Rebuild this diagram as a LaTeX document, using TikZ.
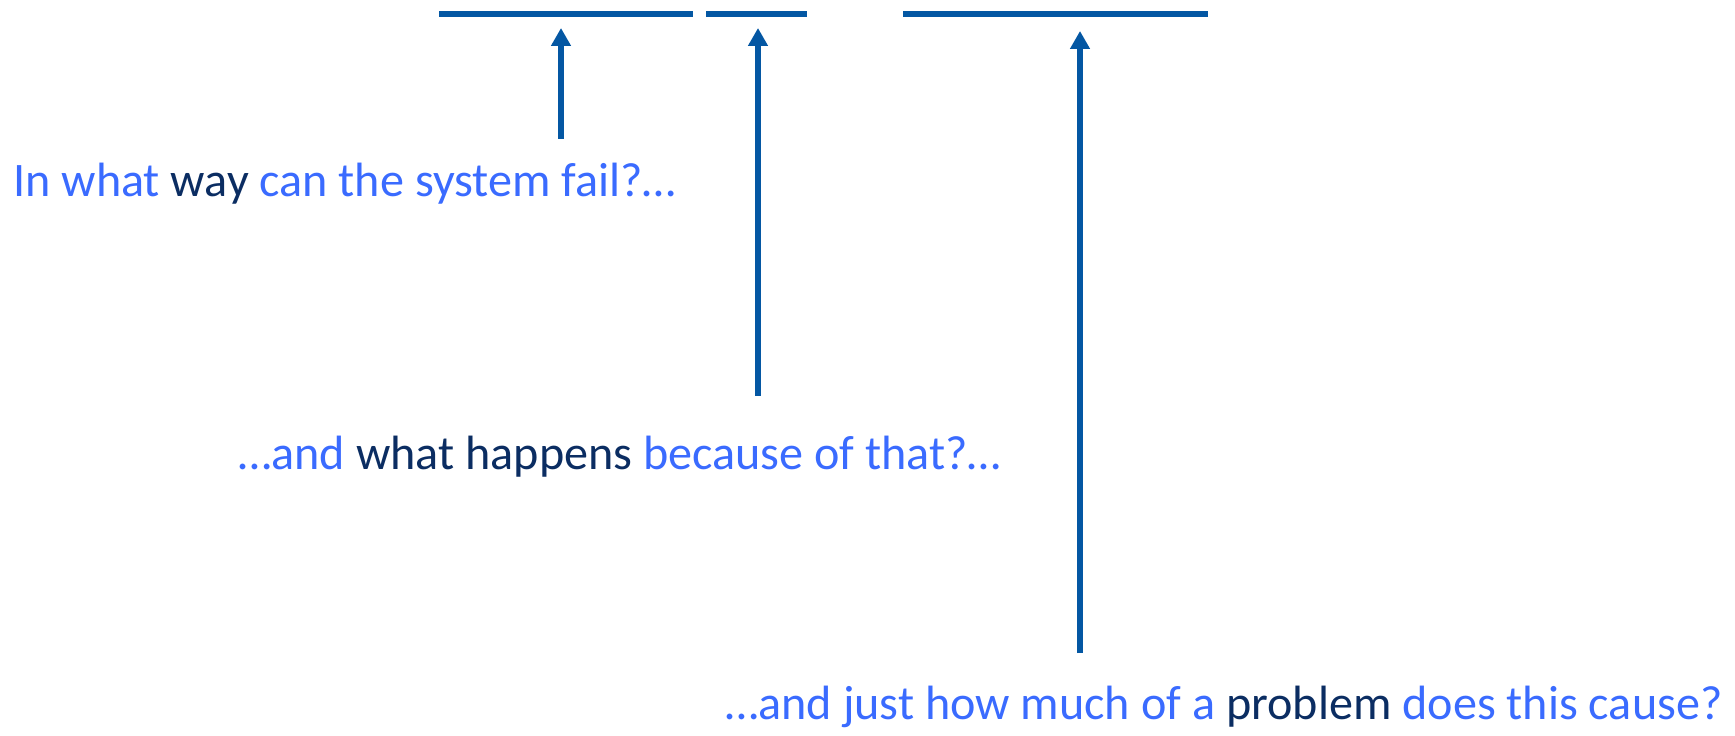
\documentclass[tikz,border=0pt]{standalone}
\usepackage{fontspec}
\setmainfont{Carlito}
\usepackage{xcolor}
\definecolor{qBlue}{HTML}{3A6BFF}
\definecolor{qNavy}{HTML}{0B2D62}
\definecolor{barBlue}{HTML}{0457A3}
\usetikzlibrary{arrows.meta}

\begin{document}
\begin{tikzpicture}[x=0.02cm, y=-0.02cm,
    bar/.style={barBlue, line width=3.4pt},
    pointer/.style={barBlue, line width=3.3pt, -{Triangle[width=0.38cm, length=0.36cm]}},
    question/.style={anchor=base west, inner sep=0pt, text=qBlue, font=\fontsize{27.4}{32}\selectfont}]
  \useasboundingbox (0,0) rectangle (1735,736);
  % the three blanks
  \draw[bar] (439,14) -- (693,14);
  \draw[bar] (706,14) -- (807,14);
  \draw[bar] (903,14) -- (1208,14);
  % pointers up to the blanks
  \coordinate (wayTip) at (561,28);   \coordinate (wayFoot) at (561,139);
  \coordinate (whatTip) at (758,28);  \coordinate (whatFoot) at (758,396);
  \coordinate (probTip) at (1080,31); \coordinate (probFoot) at (1080,653);
  \draw[pointer] (wayFoot) -- (wayTip);
  \draw[pointer] (whatFoot) -- (whatTip);
  \draw[pointer] (probFoot) -- (probTip);
  % the questions
  \node[question] (qWay) at (13,197) {In what \textcolor{qNavy}{way} can the system fail?\ldots};
  \node[question] (qWhat) at (238,470) {\ldots and \textcolor{qNavy}{what happens} because of that?\ldots};
  \node[question] (qProb) at (725,719) {\ldots and just how much of a \textcolor{qNavy}{problem} does this cause?};
\end{tikzpicture}
\end{document}
